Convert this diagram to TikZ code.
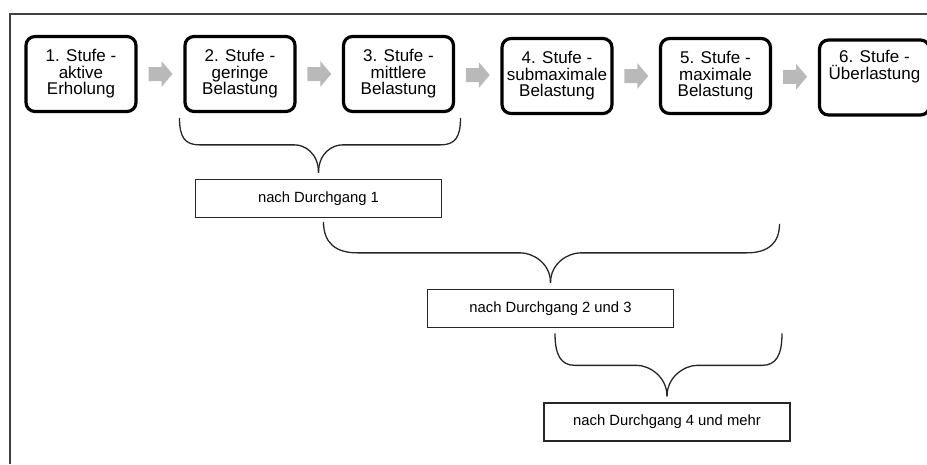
\documentclass[tikz,border=0pt]{standalone}
\usepackage{fontspec}
\setmainfont{Liberation Sans}
\usetikzlibrary{calc}
\begin{document}
\begin{tikzpicture}[x=1pt,y=-1pt,
  stage/.style={draw=black, line width=3.2pt, rounded corners=9pt,
    minimum width=110pt, minimum height=75pt, inner sep=0pt, align=center,
    font=\fontsize{17}{16.5}\selectfont},
  passbox/.style={draw=black!85, line width=1.3pt, minimum width=246pt,
    minimum height=38pt, inner sep=0pt, font=\fontsize{14.8}{16}\selectfont},
  flow/.style={fill=gray!55, draw=none},
  brace/.style={draw=black!85, line width=1.3pt},
  frame/.style={draw=black!75, line width=1.5pt}]
\useasboundingbox (0,0) rectangle (927,464);
\clip (0,0) rectangle (927,464);

% outer frame (top and left edges)
\draw[frame] (927,14) -- (10,14) -- (10,464);

% the six load stages
\node[stage] (s1) at (81,74)    {1. Stufe -\\aktive\\Erholung};
\node[stage] (s2) at (240,74)   {2. Stufe -\\geringe\\Belastung};
\node[stage] (s3) at (398.5,74) {3. Stufe -\\mittlere\\Belastung};
\node[stage] (s4) at (557,76)   {4. Stufe -\\submaximale\\Belastung};
\node[stage] (s5) at (715.5,76) {5. Stufe -\\maximale\\Belastung};
\node[stage] (s6) at (874.5,77.5) {6. Stufe -\\Überlastung\\[4pt]\strut};

% grey block arrows between the stages
\foreach \a/\b in {s1/s2,s2/s3,s3/s4,s4/s5,s5/s6}
  \fill[flow] ($(\a.east)!0.5!(\b.west)$) ++(-12,-7) -- ++(13,0) -- ++(0,-6)
    -- ++(11,13) -- ++(-11,13) -- ++(0,-6) -- ++(-13,0) -- cycle;

% pass boxes
\node[passbox] (p1) at (318.5,198.5) {nach Durchgang 1};
\node[passbox] (p2) at (550.5,308.5) {nach Durchgang 2 und 3};
\node[passbox] (p3) at (667,422)     {nach Durchgang 4 und mehr};

% brace tips just above the pass boxes
\coordinate (t1) at ([yshift=6pt]p1.north);
\coordinate (t2) at ([yshift=6pt]p2.north);
\coordinate (t3) at ([yshift=6pt]p3.north);

% brace over stages 2-3
\draw[brace] (t1) .. controls +(0,-20) and +(10,0) .. ++(-24,-28) -- ++(-95,0)
  .. controls +(-15,0) and +(0,19) .. ++(-20,-27);
\draw[brace] (t1) .. controls +(0,-20) and +(-10,0) .. ++(24,-28) -- ++(98,0)
  .. controls +(15,0) and +(0,19) .. ++(20,-27);

% brace over stages 3-5
\draw[brace] (t2) .. controls +(0,-20) and +(12,0) .. ++(-30,-30) -- ++(-163,0)
  .. controls +(-22,0) and +(0,21) .. ++(-34,-31);
\draw[brace] (t2) .. controls +(0,-20) and +(-12,0) .. ++(30,-30) -- ++(166,0)
  .. controls +(22,0) and +(0,19) .. ++(33,-29);

% brace over stages 4-5
\draw[brace] (t3) .. controls +(0,-20) and +(12,0) .. ++(-30,-31) -- ++(-62,0)
  .. controls +(-14,0) and +(0,22) .. ++(-20,-32);
\draw[brace] (t3) .. controls +(0,-20) and +(-12,0) .. ++(30,-31) -- ++(65,0)
  .. controls +(14,0) and +(0,22) .. ++(20,-32);
\end{tikzpicture}
\end{document}
